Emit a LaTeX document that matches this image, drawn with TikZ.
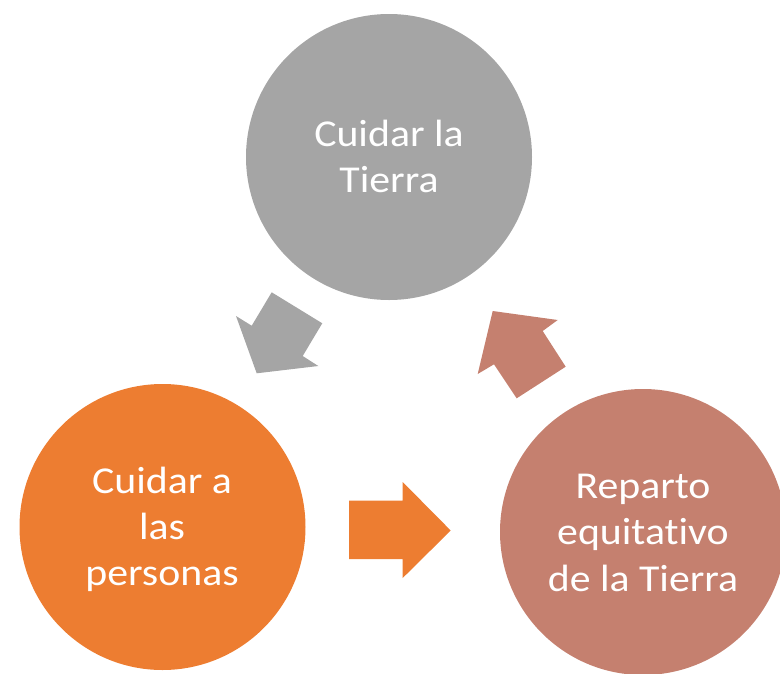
\documentclass[tikz,border=0pt]{standalone}
\usepackage{fontspec}
\newfontfamily\dfont[FakeStretch=1.1,RawFeature={-liga;-clig;-calt;-dlig}]{Carlito}
\definecolor{cgray}{HTML}{A5A5A5}
\definecolor{corange}{HTML}{ED7D31}
\definecolor{cbrown}{HTML}{C5806F}
\begin{document}
\begin{tikzpicture}[x=1pt,y=-1pt,
  circ/.style={circle, minimum size=286pt, inner sep=0pt, draw=none},
  lbl/.style={text=white, anchor=base, inner sep=0pt, font=\dfont\fontsize{38}{46}\selectfont},
  blockarrow/.style={draw=none}]
\useasboundingbox (0,0) rectangle (780,673);
\clip (0,0) rectangle (780,673);
% circles
\node[circ, fill=cgray]   (earth)  at (389,157) {};
\node[circ, fill=corange] (people) at (162.5,527) {};
\node[circ, fill=cbrown]  (share)  at (643,532) {};
% labels
\node[lbl] (e1) at (389,146) {Cuidar la};
\node[lbl] (e2) at (389,192) {Tierra};
\node[lbl] (p1) at (162,493) {Cuidar a};
\node[lbl] (p2) at (162,539) {las};
\node[lbl] (p3) at (162,585) {personas};
\node[lbl] (s1) at (643,498) {Reparto};
\node[lbl] (s2) at (643,544.5) {equitativo};
\node[lbl] (s3) at (643,591) {de la Tierra};
% block arrows
\fill[cgray, blockarrow] (271.7,292.3) -- (322.3,323.3) -- (302.7,356) -- (318.3,366)
  -- (256.7,373.3) -- (236,316) -- (251.7,325.7) -- cycle;
\fill[corange, blockarrow] (349,500.7) -- (402.7,500.7) -- (402.7,482) -- (450.7,530.5)
  -- (402.7,578) -- (402.7,559) -- (349,559) -- cycle;
\fill[cbrown, blockarrow] (492.7,311) -- (557.7,320) -- (542.7,331) -- (565.7,366.7)
  -- (516.7,398.3) -- (494,364.3) -- (477.7,374) -- cycle;
\end{tikzpicture}
\end{document}
